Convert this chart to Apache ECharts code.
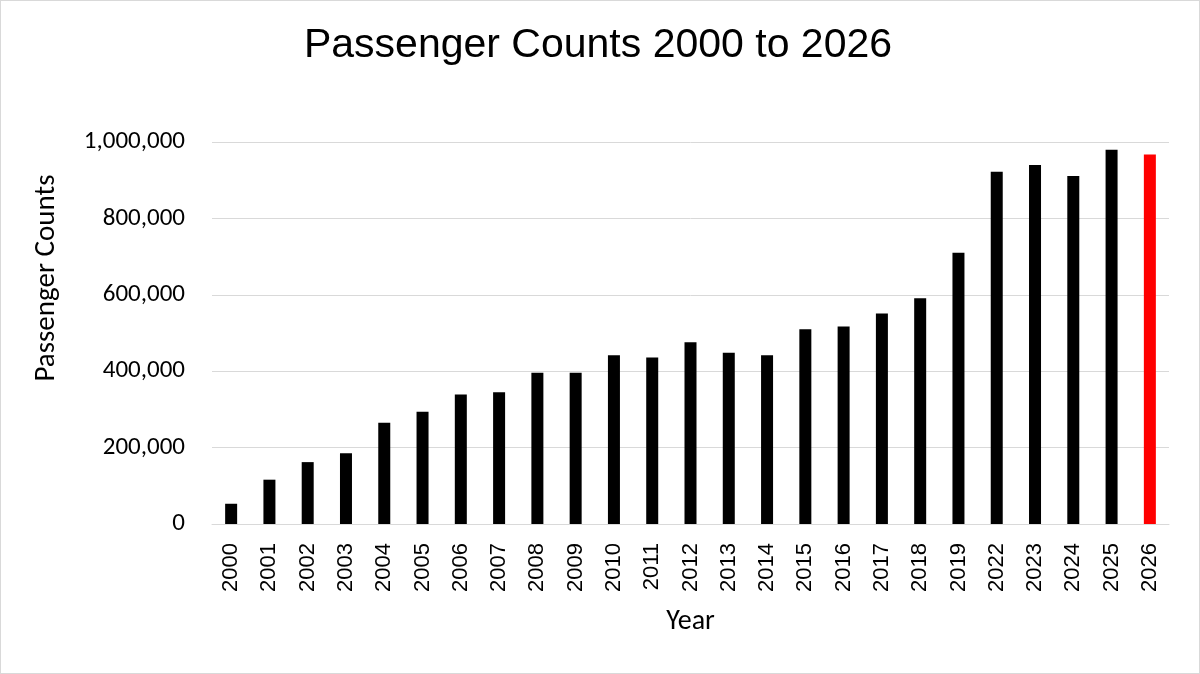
<!DOCTYPE html>
<html>
<head>
<meta charset="utf-8">
<script src="https://cdn.jsdelivr.net/npm/echarts@6/dist/echarts.min.js"></script>
<style>
html,body{margin:0;padding:0;background:#fff;}
#main{width:1198px;height:672px;border:1px solid #d9d9d9;}
</style>
</head>
<body>
<div id="main"></div>
<script>
const years = ['2000','2001','2002','2003','2004','2005','2006','2007','2008','2009','2010','2011','2012','2013','2014','2015','2016','2017','2018','2019','2022','2023','2024','2025','2026'];
const counts = [53000,116000,162000,185000,265000,294000,339000,345000,396000,396000,442000,436000,476000,448000,442000,510000,517000,551000,591000,710000,922000,940000,911000,980000,967000];
const highlightYear = '2026';
const titleText = 'Passenger Counts 2000 to 2026';
const yName = 'Passenger Counts';
const xName = 'Year';

const chart = echarts.init(document.getElementById('main'));
const calibri = 'Carlito, Lato, sans-serif';
const arial = '"Liberation Sans", Arial, sans-serif';
chart.setOption({
  animation:false,
  graphic:[
    {type:'text', x:597, y:45,
     style:{text:titleText, fontSize:41, fontFamily:arial, align:'center', verticalAlign:'middle', fill:'#000'}},
    {type:'text', x:46, y:277, rotation:Math.PI/2,
     style:{text:yName, fontSize:29, fontFamily:calibri, align:'center', verticalAlign:'middle', fill:'#000'}}
  ],
  grid:{left:211,right:30,top:141,bottom:149},
  xAxis:{type:'category',data:years,
    name:xName,nameLocation:'middle',nameGap:84,
    nameTextStyle:{fontFamily:calibri,fontSize:28,color:'#000'},
    axisLine:{lineStyle:{color:'#d9d9d9',width:1}},
    axisTick:{show:false},
    axisLabel:{rotate:90,fontFamily:arial,fontSize:22,color:'#000',margin:19}},
  yAxis:{type:'value',min:0,max:1000000,interval:200000,
    axisLine:{show:false},axisTick:{show:false},
    splitLine:{lineStyle:{color:'#d9d9d9',width:1}},
    axisLabel:{fontFamily:calibri,fontSize:25,color:'#000',margin:27,
      formatter:v=>v.toLocaleString('en-US')}},
  series:[{type:'bar',barWidth:12,
    data:counts.map((v,i)=>({value:v,itemStyle:{color:years[i]===highlightYear?'#ff0000':'#000000'}}))}]
});
</script>
</body>
</html>
